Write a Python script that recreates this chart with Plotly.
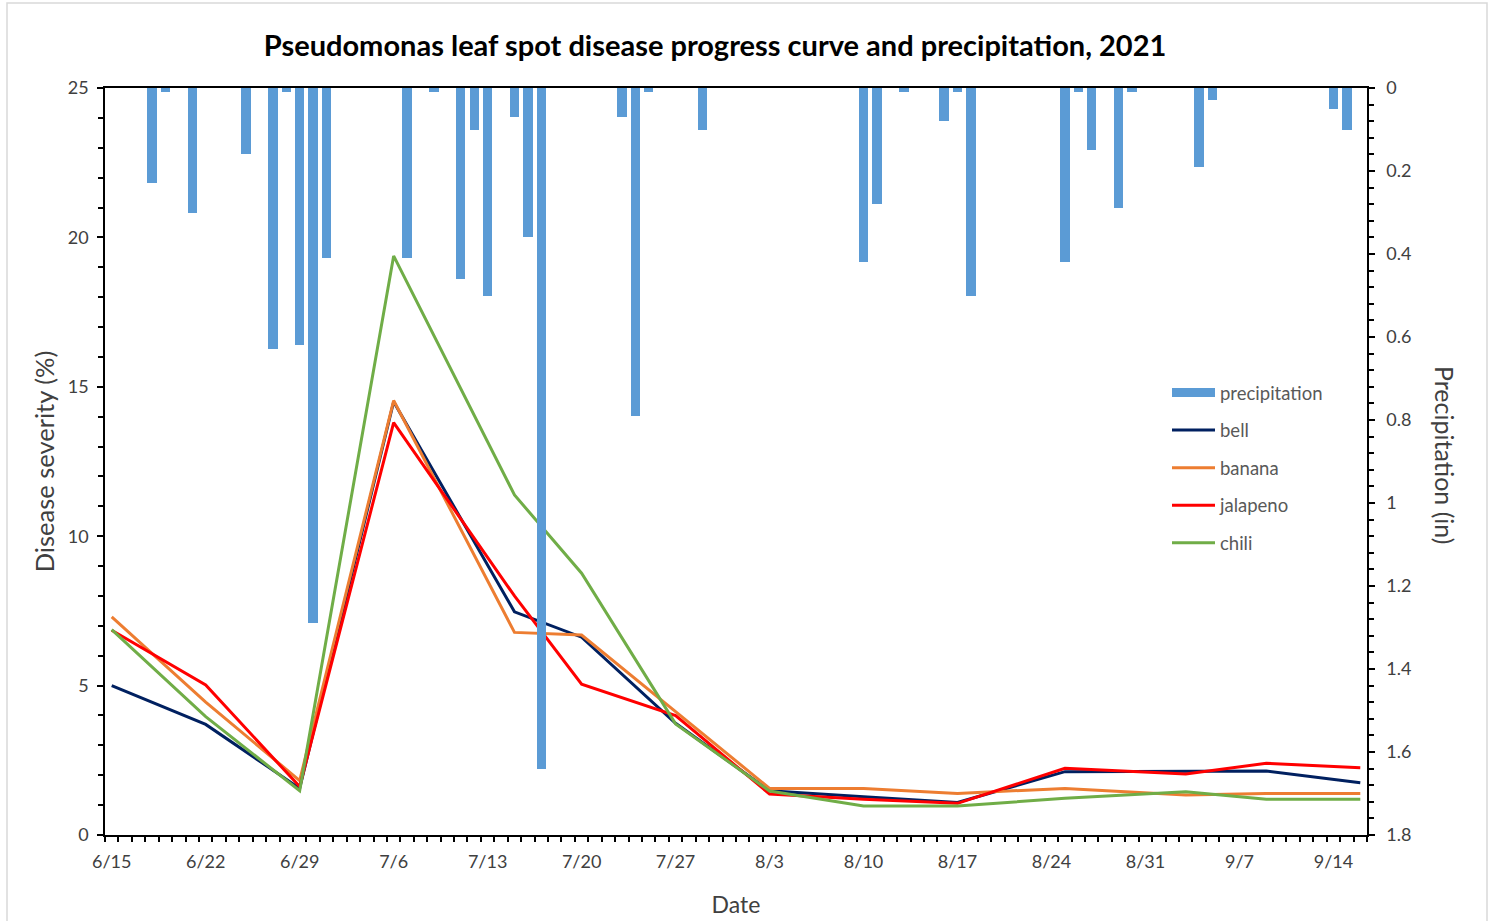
import pandas as pd
import plotly.graph_objects as go

YEAR = 2021
DAY_MS = 86400000

# Disease severity ratings (%) by cultivar type
severity_dates = ["6/15", "6/22", "6/29", "7/6", "7/15", "7/20", "7/27",
                  "8/3", "8/10", "8/17", "8/25", "9/3", "9/9", "9/16"]
bell = [5.0, 3.7, 1.56, 14.5, 7.47, 6.62, 3.74, 1.48, 1.28, 1.09, 2.12, 2.12, 2.14, 1.75]
banana = [7.3, 4.45, 1.82, 14.54, 6.78, 6.69, 4.13, 1.56, 1.56, 1.39, 1.56, 1.34, 1.39, 1.39]
jalapeno = [6.85, 5.02, 1.62, 13.8, 8.0, 5.05, 4.0, 1.37, 1.2, 1.06, 2.23, 2.04, 2.4, 2.25]
chili = [6.87, 3.96, 1.48, 19.38, 11.38, 8.76, 3.72, 1.47, 0.97, 0.97, 1.23, 1.45, 1.2, 1.2]

# Daily precipitation (in)
precip_dates = ["6/18", "6/19", "6/21", "6/25", "6/27", "6/28", "6/29", "6/30", "7/1",
                "7/7", "7/9", "7/11", "7/12", "7/13", "7/15", "7/16", "7/17",
                "7/23", "7/24", "7/25", "7/29", "8/10", "8/11", "8/13", "8/16",
                "8/17", "8/18", "8/25", "8/26", "8/27", "8/29", "8/30", "9/4",
                "9/5", "9/14", "9/15"]
precip_in = [0.23, 0.01, 0.30, 0.16, 0.63, 0.01, 0.62, 1.29, 0.41,
             0.41, 0.01, 0.46, 0.10, 0.50, 0.07, 0.36, 1.64,
             0.07, 0.79, 0.01, 0.10, 0.42, 0.28, 0.01, 0.08,
             0.01, 0.50, 0.42, 0.01, 0.15, 0.29, 0.01, 0.19,
             0.03, 0.05, 0.10]

week_labels = ["6/15", "6/22", "6/29", "7/6", "7/13", "7/20", "7/27",
               "8/3", "8/10", "8/17", "8/24", "8/31", "9/7", "9/14"]
severity_ticks = [0, 5, 10, 15, 20, 25]
precip_ticks = [0, 0.2, 0.4, 0.6, 0.8, 1.0, 1.2, 1.4, 1.6, 1.8]
precip_ticktext = ["0", "0.2", "0.4", "0.6", "0.8", "1", "1.2", "1.4", "1.6", "1.8"]


def to_dt(md_list):
    return pd.to_datetime([f"{YEAR}/{d}" for d in md_list])


FONT = "Lato, 'Open Sans', sans-serif"
AXIS_TXT = "#404040"
BAR_COLOR = "#5B9BD5"
TICK_SIZE = 18
X_START = pd.Timestamp(f"{YEAR}-06-14 12:00")
X_END = pd.Timestamp(f"{YEAR}-09-16 12:00")

fig = go.Figure()

fig.add_trace(go.Bar(
    x=to_dt(precip_dates), y=precip_in, name="precipitation", yaxis="y2",
    marker=dict(color=BAR_COLOR, line=dict(width=0)), width=0.7 * DAY_MS,
    showlegend=False,
))
# Legend key for the bars, drawn as a wide block
fig.add_trace(go.Scatter(
    x=[None], y=[None], name="precipitation", yaxis="y2", mode="lines",
    line=dict(color=BAR_COLOR, width=9), legendgroup="p",
))

series = [("bell", bell, "#002060"), ("banana", banana, "#ED7D31"),
          ("jalapeno", jalapeno, "#FF0000"), ("chili", chili, "#70AD47")]
for name, vals, color in series:
    fig.add_trace(go.Scatter(
        x=to_dt(severity_dates), y=vals, name=name, mode="lines",
        line=dict(color=color, width=3), legendgroup=name,
    ))

axis_line = dict(showline=True, linecolor="black", linewidth=1.5,
                 showgrid=False, zeroline=False, automargin=False)
overlay_axis = dict(showline=False, showgrid=False, zeroline=False,
                    showticklabels=False, automargin=False,
                    ticks="inside", ticklen=6, tickwidth=1.5, tickcolor="black")

fig.update_layout(
    width=1491, height=921,
    margin=dict(l=105, r=124, t=88, b=86),
    paper_bgcolor="white", plot_bgcolor="white",
    font=dict(family=FONT, color=AXIS_TXT, size=TICK_SIZE),
    title=dict(text="<b>Pseudomonas leaf spot disease progress curve and precipitation, 2021</b>",
               x=0.4796, xanchor="center", y=0.950, yanchor="middle",
               font=dict(family=FONT, size=29, color="black")),
    bargap=0,
    showlegend=True,
    legend=dict(x=(1167 - 105) / 1262, xanchor="left", y=(835 - 374) / 747, yanchor="top",
                font=dict(family=FONT, size=18.5, color="#595959"),
                tracegroupgap=10.5, itemwidth=43, bgcolor="rgba(0,0,0,0)"),
    xaxis=dict(
        type="date", range=[X_START, X_END], **axis_line, mirror=True,
        tickmode="array", tickvals=to_dt(week_labels), ticktext=week_labels,
        ticks="", tickfont=dict(size=TICK_SIZE, color=AXIS_TXT), ticklabelstandoff=10,
        minor=dict(ticks="outside", ticklen=5, tickwidth=1.5, tickcolor="black",
                   tick0=X_START, dtick=DAY_MS),
        title=dict(text="Date", font=dict(size=23, color=AXIS_TXT), standoff=26),
    ),
    xaxis3=dict(
        type="date", range=[X_START, X_END], overlaying="x", anchor="y",
        tickmode="linear", tick0=X_START, dtick=7 * DAY_MS, **overlay_axis,
    ),
    yaxis=dict(
        range=[0, 25], **axis_line, tickmode="array", tickvals=severity_ticks,
        ticks="outside", ticklen=6, tickwidth=1.5, tickcolor="black",
        minor=dict(ticks="outside", ticklen=5, tickwidth=1.5, tickcolor="black",
                   tick0=0, dtick=1),
        tickfont=dict(size=TICK_SIZE, color=AXIS_TXT), ticklabelstandoff=5,
        title=dict(text="Disease severity (%)", font=dict(size=25.5, color=AXIS_TXT), standoff=6),
    ),
    yaxis3=dict(
        range=[0, 25], overlaying="y", anchor="x", side="left",
        tickmode="array", tickvals=severity_ticks, **overlay_axis,
    ),
    yaxis2=dict(
        range=[1.8, 0], overlaying="y", side="right", anchor="x", **axis_line,
        tickmode="array", tickvals=precip_ticks, ticktext=precip_ticktext,
        ticks="outside", ticklen=6, tickwidth=1.5, tickcolor="black",
        minor=dict(ticks="outside", ticklen=5, tickwidth=1.5, tickcolor="black",
                   tick0=0, dtick=0.04),
        tickfont=dict(size=TICK_SIZE, color=AXIS_TXT), ticklabelstandoff=8,
    ),
    yaxis4=dict(
        range=[1.8, 0], overlaying="y", side="right", anchor="x",
        tickmode="array", tickvals=precip_ticks, **overlay_axis,
    ),
)

# Right-hand axis title reads top to bottom
fig.add_annotation(text="Precipitation (in)", textangle=90, xref="paper", yref="paper",
                   x=(1445 - 105) / 1262, y=(835 - 455) / 747, xanchor="center",
                   yanchor="middle", showarrow=False,
                   font=dict(family=FONT, size=25, color=AXIS_TXT))

# Chart-area border
fig.add_shape(type="rect", xref="paper", yref="paper",
              x0=(7 - 105) / 1262, x1=(1487 - 105) / 1262,
              y0=(835 - 930) / 747, y1=(835 - 3) / 747,
              line=dict(color="#D9D9D9", width=1.5), layer="below")

fig.write_html("out.html")
